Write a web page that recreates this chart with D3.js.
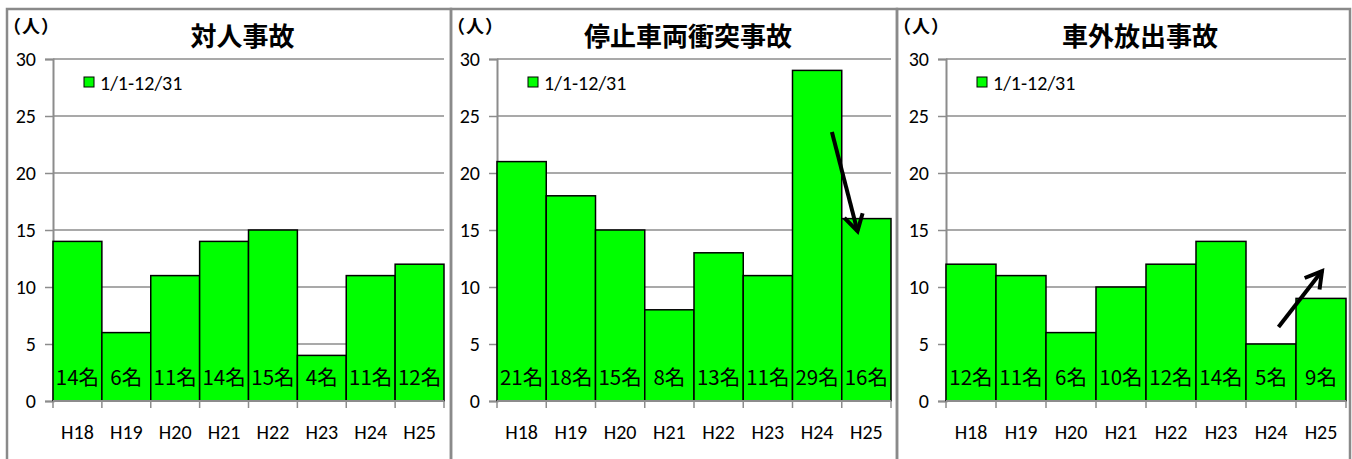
<!DOCTYPE html>
<html>
<head>
<meta charset="utf-8">
<script src="https://cdn.jsdelivr.net/npm/d3@7"></script>
<style>
  body { margin: 0; background: #fff; }
  svg { display: block; }
</style>
</head>
<body>
<svg width="1352" height="459"></svg>
<script>
const svg = d3.select("svg");

// データ
const years = ["H18", "H19", "H20", "H21", "H22", "H23", "H24", "H25"];
const titles = ["対人事故", "停止車両衝突事故", "車外放出事故"];
const taijin = [14, 6, 11, 14, 15, 4, 11, 12];
const teishi = [21, 18, 15, 8, 13, 11, 29, 16];
const shagai = [12, 11, 6, 10, 12, 14, 5, 9];
const yTicks = [0, 5, 10, 15, 20, 25, 30];
const legendLabel = "1/1-12/31";
// 矢印 (x: 年度の位置, y: 人数)
const arrowTeishi = [[6.80, 23.6], [7.32, 14.9]];
const arrowShagai = [[6.65, 6.5], [7.52, 11.4]];

// パネル配置
const panels = [
  { left: 7,   right: 451,  axisX: 53,  plotR: 444,  values: taijin, arrow: null },
  { left: 451, right: 897,  axisX: 497, plotR: 891,  values: teishi, arrow: arrowTeishi },
  { left: 897, right: 1350, axisX: 946, plotR: 1346, values: shagai, arrow: arrowShagai }
];

const latin = "Carlito, Calibri, 'Noto Sans', sans-serif";
const cjk = "'Noto Sans CJK JP', 'Noto Sans', sans-serif";
const gridColor = "#8c8c8c";

svg.append("defs").append("marker")
  .attr("id", "head")
  .attr("viewBox", "0 0 10 10")
  .attr("refX", 8).attr("refY", 5)
  .attr("markerWidth", 6.2).attr("markerHeight", 6.2)
  .attr("markerUnits", "strokeWidth")
  .attr("orient", "auto")
  .append("path")
  .attr("d", "M1.5,1.2 L8,5 L1.5,8.8")
  .attr("fill", "none")
  .attr("stroke", "black")
  .attr("stroke-width", 1.6);

panels.forEach((p, i) => {
  const g = svg.append("g");

  // 枠
  g.append("path")
    .attr("d", `M${p.left},470 V9 H${p.right} V470`)
    .attr("fill", "none")
    .attr("stroke", "#8a8a8a")
    .attr("stroke-width", 2.5);

  const x = d3.scaleBand().domain(years).range([p.axisX, p.plotR]).padding(0);
  const y = d3.scaleLinear().domain([0, 30]).range([401, 59]);

  // 目盛線
  yTicks.filter(t => t > 0).forEach(t => {
    g.append("line")
      .attr("x1", p.axisX).attr("x2", p.plotR)
      .attr("y1", y(t)).attr("y2", y(t))
      .attr("stroke", gridColor).attr("stroke-width", 1.5);
  });

  // Y軸
  const yAxis = g.append("g")
    .attr("transform", `translate(${p.axisX},0)`)
    .call(d3.axisLeft(y).tickValues(yTicks).tickSize(8).tickPadding(9));
  yAxis.select(".domain").attr("stroke", gridColor).attr("stroke-width", 2);
  yAxis.selectAll(".tick line").attr("stroke", gridColor).attr("stroke-width", 1.5);
  yAxis.selectAll(".tick text")
    .attr("font-family", latin).attr("font-size", 20).attr("fill", "#000");

  // 棒
  g.selectAll("rect.bar")
    .data(p.values)
    .join("rect")
    .attr("class", "bar")
    .attr("x", (d, j) => x(years[j]))
    .attr("y", d => y(d))
    .attr("width", x.bandwidth())
    .attr("height", d => y(0) - y(d))
    .attr("fill", "#00ff00")
    .attr("stroke", "#000")
    .attr("stroke-width", 1.5);

  // データラベル
  g.selectAll("text.lbl")
    .data(p.values)
    .join("text")
    .attr("class", "lbl")
    .attr("x", (d, j) => x(years[j]) + x.bandwidth() / 2)
    .attr("y", 385)
    .attr("text-anchor", "middle")
    .attr("font-family", cjk)
    .attr("font-size", 20.5)
    .text(d => d + "名");

  // X軸
  g.append("line")
    .attr("x1", p.axisX).attr("x2", p.plotR)
    .attr("y1", y(0)).attr("y2", y(0))
    .attr("stroke", gridColor).attr("stroke-width", 2);
  const edges = years.map(c => x(c)).concat([p.plotR]);
  edges.forEach(ex => {
    g.append("line")
      .attr("x1", ex).attr("x2", ex)
      .attr("y1", y(0)).attr("y2", y(0) + 7)
      .attr("stroke", gridColor).attr("stroke-width", 1.5);
  });
  g.selectAll("text.xl")
    .data(years)
    .join("text")
    .attr("class", "xl")
    .attr("x", d => x(d) + x.bandwidth() / 2)
    .attr("y", 439)
    .attr("text-anchor", "middle")
    .attr("font-family", latin)
    .attr("font-size", 20)
    .text(d => d);

  // タイトル・単位
  g.append("text")
    .attr("x", (p.axisX + p.plotR) / 2 - 6)
    .attr("y", 46)
    .attr("text-anchor", "middle")
    .attr("font-family", cjk)
    .attr("font-weight", "bold")
    .attr("font-size", 26)
    .text(titles[i]);
  g.append("text")
    .attr("x", p.left - 4)
    .attr("y", 33)
    .attr("font-family", cjk)
    .attr("font-weight", "bold")
    .attr("font-size", 18)
    .attr("letter-spacing", 1)
    .text("（人）");

  // 凡例
  g.append("rect")
    .attr("x", p.axisX + 31).attr("y", 77)
    .attr("width", 10).attr("height", 10)
    .attr("fill", "#00ff00").attr("stroke", "#000").attr("stroke-width", 1);
  g.append("text")
    .attr("x", p.axisX + 47).attr("y", 90)
    .attr("font-family", latin)
    .attr("font-size", 20)
    .text(legendLabel);

  // 矢印
  if (p.arrow) {
    const ax = v => p.axisX + v * x.bandwidth();
    g.append("line")
      .attr("x1", ax(p.arrow[0][0])).attr("y1", y(p.arrow[0][1]))
      .attr("x2", ax(p.arrow[1][0])).attr("y2", y(p.arrow[1][1]))
      .attr("stroke", "#000")
      .attr("stroke-width", 4)
      .attr("marker-end", "url(#head)");
  }
});
</script>
</body>
</html>
